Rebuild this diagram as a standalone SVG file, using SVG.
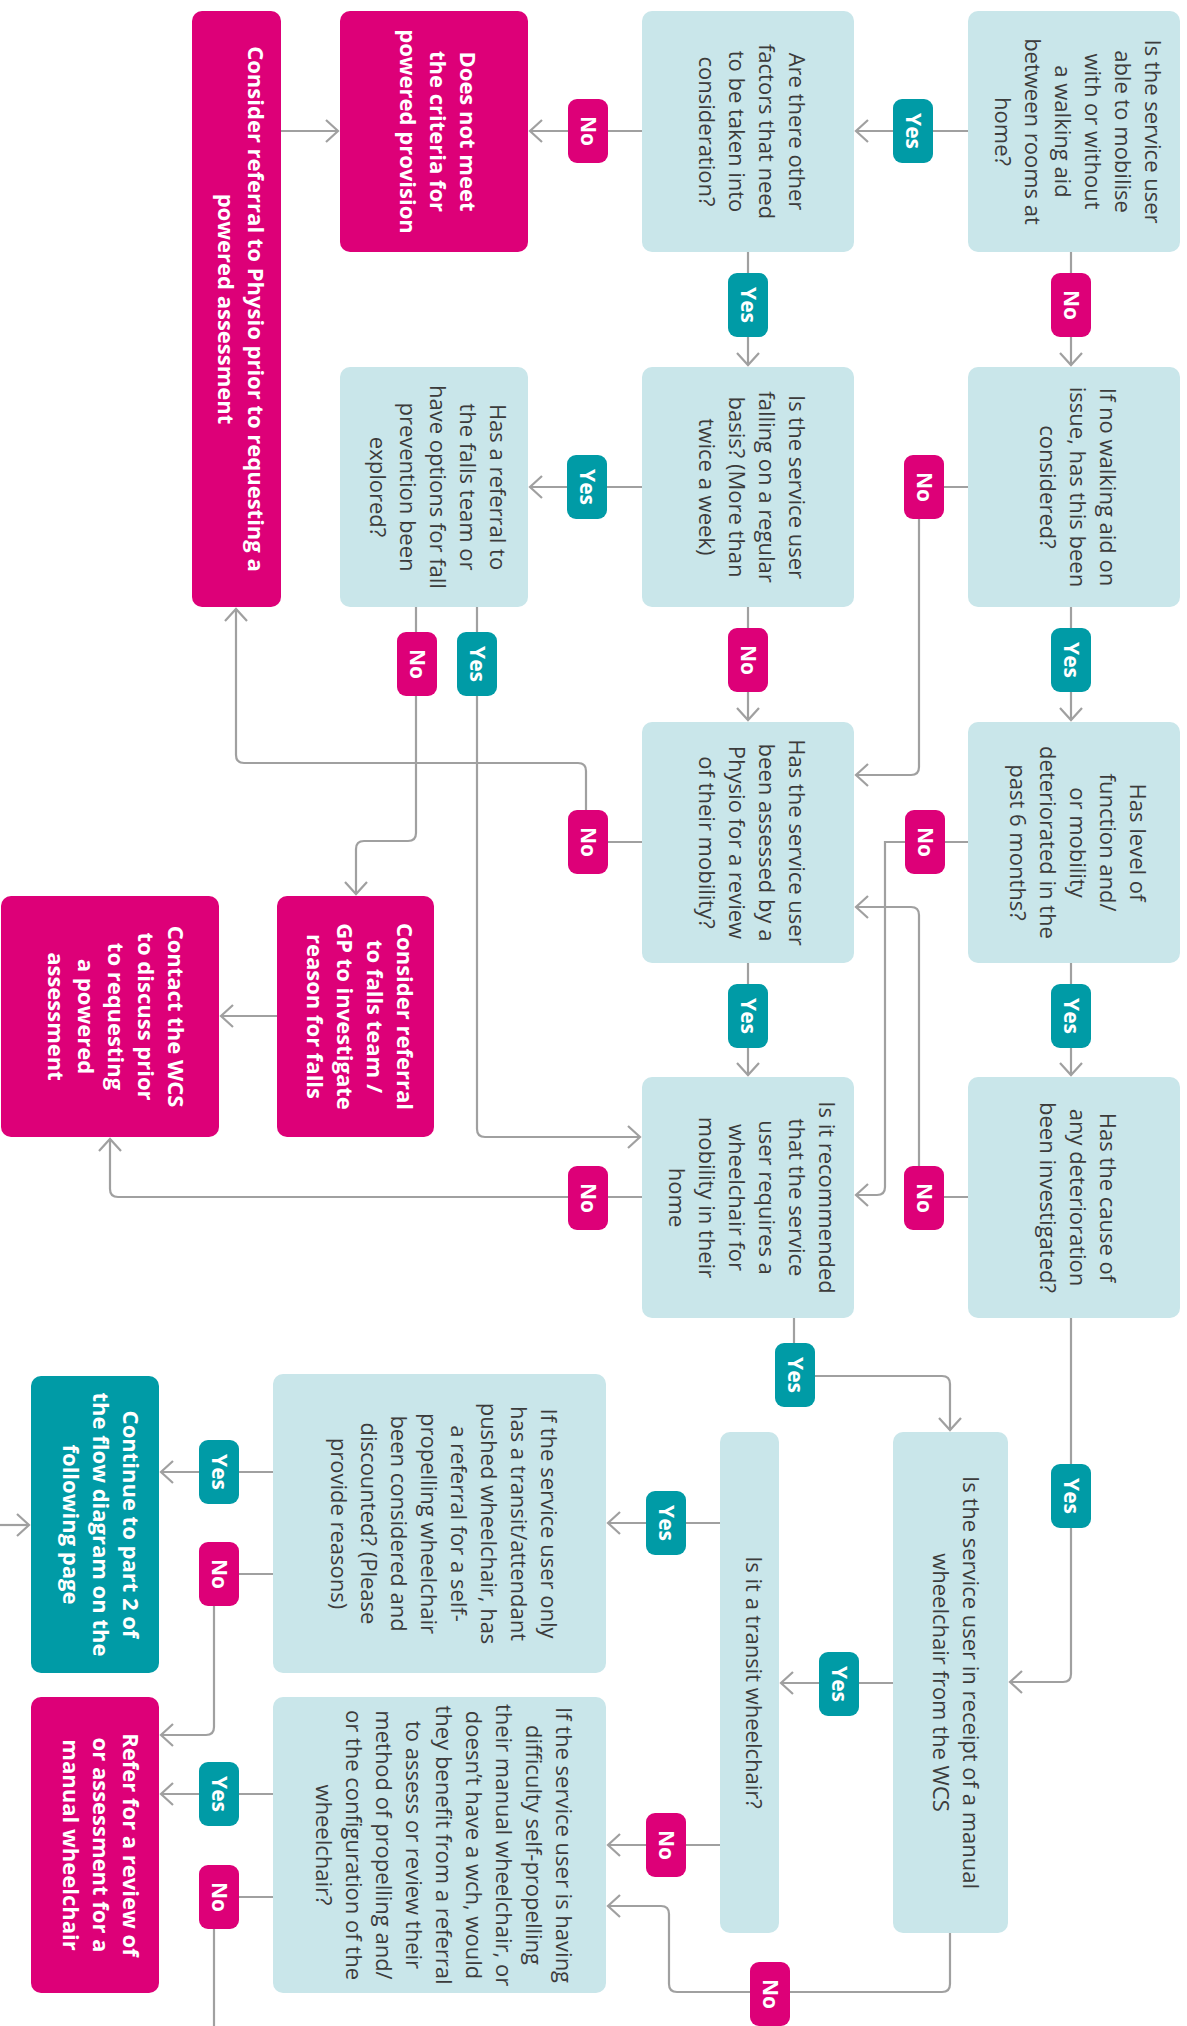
<svg xmlns="http://www.w3.org/2000/svg" width="1187" height="2026" viewBox="0 0 1187 2026">
<style>
.q{fill:#c9e6ea}
.m{fill:#dd0078}
.t{fill:#009ba6}
.tx{font-family:"Open Sans","Noto Sans","Liberation Sans",sans-serif;font-size:22px;fill:#3c3c3c;text-anchor:middle}
.tb{font-family:"Open Sans","Noto Sans","Liberation Sans",sans-serif;font-size:22px;font-weight:700;fill:#ffffff;text-anchor:middle}
.conn path{fill:none;stroke:#a0a0a0;stroke-width:2.2;marker-end:url(#ar)}
.conn path.nm{marker-end:none}
.bl text{font-family:"Open Sans","Noto Sans","Liberation Sans",sans-serif;font-size:21px;font-weight:700;fill:#ffffff;text-anchor:middle}
</style>
<defs>
<marker id="ar" viewBox="-15 -13 17 26" refX="0" refY="0" markerWidth="17" markerHeight="26" markerUnits="userSpaceOnUse" orient="auto">
<path d="M-12,-11 L0,0 L-12,11" fill="none" stroke="#a0a0a0" stroke-width="2.2"/>
</marker>
<rect id="by" x="-20" y="-32" width="40" height="64" rx="9" fill="#009ba6"/>
<rect id="bn" x="-20" y="-32" width="40" height="64" rx="9" fill="#dd0078"/>
</defs>
<rect width="1187" height="2026" fill="#ffffff"/>

<g class="conn">
<path d="M968,131 H856"/>
<path d="M642,131 H530"/>
<path d="M281,131 H338"/>
<path d="M1071,252 V365"/>
<path d="M748,252 V365"/>
<path d="M968,487 H919 V767 Q919,775 911,775 H856"/>
<path d="M642,487 H530"/>
<path d="M1071,607 V720"/>
<path d="M748,607 V720"/>
<path d="M416,607 V833 Q416,841 408,841 H364 Q356,841 356,849 V894"/>
<path d="M477,607 V1129 Q477,1137 485,1137 H640"/>
<path d="M642,842 H586 V771 Q586,763 578,763 H244 Q236,763 236,755 V609"/>
<path d="M968,842 H885 V1187 Q885,1195 877,1195 H856"/>
<path d="M968,1197 H919 V915 Q919,907 911,907 H856"/>
<path d="M1071,963 V1075"/>
<path d="M748,963 V1075"/>
<path d="M642,1197 H118 Q110,1197 110,1189 V1139"/>
<path d="M277,1016 H221"/>
<path d="M1071,1318 V1674 Q1071,1682 1063,1682 H1010"/>
<path d="M794,1318 V1376 H942 Q950,1376 950,1384 V1430"/>
<path d="M893,1683 H781"/>
<path d="M950,1933 V1984 Q950,1992 942,1992 H677 Q669,1992 669,1984 V1914 Q669,1906 661,1906 H608"/>
<path d="M720,1523 H608"/>
<path d="M720,1845 H608"/>
<path d="M273,1472 H161"/>
<path d="M273,1574 H214 V1727 Q214,1735 206,1735 H161"/>
<path d="M273,1794 H161"/>
<path class="nm" d="M273,1897 H214 V2026"/>
<path d="M0,1525 H29"/>
</g>

<g class="bl">
<g transform="translate(913,131)"><use href="#by"/><text transform="rotate(90)" y="7.5">Yes</text></g>
<g transform="translate(588,131)"><use href="#bn"/><text transform="rotate(90)" y="7.5">No</text></g>
<g transform="translate(1071,305)"><use href="#bn"/><text transform="rotate(90)" y="7.5">No</text></g>
<g transform="translate(748,305)"><use href="#by"/><text transform="rotate(90)" y="7.5">Yes</text></g>
<g transform="translate(924,487)"><use href="#bn"/><text transform="rotate(90)" y="7.5">No</text></g>
<g transform="translate(587,487)"><use href="#by"/><text transform="rotate(90)" y="7.5">Yes</text></g>
<g transform="translate(1071,660)"><use href="#by"/><text transform="rotate(90)" y="7.5">Yes</text></g>
<g transform="translate(748,660)"><use href="#bn"/><text transform="rotate(90)" y="7.5">No</text></g>
<g transform="translate(417,664)"><use href="#bn"/><text transform="rotate(90)" y="7.5">No</text></g>
<g transform="translate(477,664)"><use href="#by"/><text transform="rotate(90)" y="7.5">Yes</text></g>
<g transform="translate(588,842)"><use href="#bn"/><text transform="rotate(90)" y="7.5">No</text></g>
<g transform="translate(925,842)"><use href="#bn"/><text transform="rotate(90)" y="7.5">No</text></g>
<g transform="translate(1071,1016)"><use href="#by"/><text transform="rotate(90)" y="7.5">Yes</text></g>
<g transform="translate(748,1016)"><use href="#by"/><text transform="rotate(90)" y="7.5">Yes</text></g>
<g transform="translate(588,1198)"><use href="#bn"/><text transform="rotate(90)" y="7.5">No</text></g>
<g transform="translate(924,1198)"><use href="#bn"/><text transform="rotate(90)" y="7.5">No</text></g>
<g transform="translate(1071,1496)"><use href="#by"/><text transform="rotate(90)" y="7.5">Yes</text></g>
<g transform="translate(795,1375)"><use href="#by"/><text transform="rotate(90)" y="7.5">Yes</text></g>
<g transform="translate(839,1684)"><use href="#by"/><text transform="rotate(90)" y="7.5">Yes</text></g>
<g transform="translate(770,1994)"><use href="#bn"/><text transform="rotate(90)" y="7.5">No</text></g>
<g transform="translate(666,1523)"><use href="#by"/><text transform="rotate(90)" y="7.5">Yes</text></g>
<g transform="translate(666,1845)"><use href="#bn"/><text transform="rotate(90)" y="7.5">No</text></g>
<g transform="translate(219,1472)"><use href="#by"/><text transform="rotate(90)" y="7.5">Yes</text></g>
<g transform="translate(219,1574)"><use href="#bn"/><text transform="rotate(90)" y="7.5">No</text></g>
<g transform="translate(219,1794)"><use href="#by"/><text transform="rotate(90)" y="7.5">Yes</text></g>
<g transform="translate(219,1897)"><use href="#bn"/><text transform="rotate(90)" y="7.5">No</text></g>
</g>

<g id="nodeA"><rect class="q" x="968" y="11" width="212" height="241" rx="10"/>
<text class="tx" transform="translate(1074,131.5) rotate(90)"><tspan x="0" y="-71">Is the service user</tspan><tspan x="0" y="-41">able to mobilise</tspan><tspan x="0" y="-11">with or without</tspan><tspan x="0" y="19">a walking aid</tspan><tspan x="0" y="49">between rooms at</tspan><tspan x="0" y="79">home?</tspan></text></g>

<g id="nodeB"><rect class="q" x="642" y="11" width="212" height="241" rx="10"/>
<text class="tx" transform="translate(748,131.5) rotate(90)"><tspan x="0" y="-41">Are there other</tspan><tspan x="0" y="-11">factors that need</tspan><tspan x="0" y="19">to be taken into</tspan><tspan x="0" y="49">consideration?</tspan></text></g>

<g id="nodeC"><rect class="m" x="340" y="11" width="188" height="241" rx="10"/>
<text class="tb" transform="translate(434,131.5) rotate(90)"><tspan x="0" y="-26">Does not meet</tspan><tspan x="0" y="4">the criteria for</tspan><tspan x="0" y="34">powered provision</tspan></text></g>

<g id="nodeD"><rect class="m" x="192" y="11" width="89" height="596" rx="10"/>
<text class="tb" transform="translate(236.5,309) rotate(90)"><tspan x="0" y="-11">Consider referral to Physio prior to requesting a</tspan><tspan x="0" y="19">powered assessment</tspan></text></g>

<g id="nodeE"><rect class="q" x="968" y="367" width="212" height="240" rx="10"/>
<text class="tx" transform="translate(1074,487) rotate(90)"><tspan x="0" y="-26">If no walking aid on</tspan><tspan x="0" y="4">issue, has this been</tspan><tspan x="0" y="34">considered?</tspan></text></g>

<g id="nodeF"><rect class="q" x="642" y="367" width="212" height="240" rx="10"/>
<text class="tx" transform="translate(748,487) rotate(90)"><tspan x="0" y="-41">Is the service user</tspan><tspan x="0" y="-11">falling on a regular</tspan><tspan x="0" y="19">basis? (More than</tspan><tspan x="0" y="49">twice a week)</tspan></text></g>

<g id="nodeG"><rect class="q" x="340" y="367" width="188" height="240" rx="10"/>
<text class="tx" transform="translate(434,487) rotate(90)"><tspan x="0" y="-56">Has a referral to</tspan><tspan x="0" y="-26">the falls team or</tspan><tspan x="0" y="4">have options for fall</tspan><tspan x="0" y="34">prevention been</tspan><tspan x="0" y="64">explored?</tspan></text></g>

<g id="nodeH"><rect class="q" x="968" y="722" width="212" height="241" rx="10"/>
<text class="tx" transform="translate(1074,842.5) rotate(90)"><tspan x="0" y="-56">Has level of</tspan><tspan x="0" y="-26">function and/</tspan><tspan x="0" y="4">or mobility</tspan><tspan x="0" y="34">deteriorated in the</tspan><tspan x="0" y="64">past 6 months?</tspan></text></g>

<g id="nodeI"><rect class="q" x="642" y="722" width="212" height="241" rx="10"/>
<text class="tx" transform="translate(748,842.5) rotate(90)"><tspan x="0" y="-41">Has the service user</tspan><tspan x="0" y="-11">been assessed by a</tspan><tspan x="0" y="19">Physio for a review</tspan><tspan x="0" y="49">of their mobility?</tspan></text></g>

<g id="nodeJ"><rect class="m" x="277" y="896" width="157" height="241" rx="10"/>
<text class="tb" transform="translate(355.5,1016.5) rotate(90)"><tspan x="0" y="-41">Consider referral</tspan><tspan x="0" y="-11">to falls team /</tspan><tspan x="0" y="19">GP to investigate</tspan><tspan x="0" y="49">reason for falls</tspan></text></g>

<g id="nodeK"><rect class="m" x="1" y="896" width="218" height="241" rx="10"/>
<text class="tb" transform="translate(112,1016.5) rotate(90)"><tspan x="0" y="-56">Contact the WCS</tspan><tspan x="0" y="-26">to discuss prior</tspan><tspan x="0" y="4">to requesting</tspan><tspan x="0" y="34">a powered</tspan><tspan x="0" y="64">assessment</tspan></text></g>

<g id="nodeL"><rect class="q" x="968" y="1077" width="212" height="241" rx="10"/>
<text class="tx" transform="translate(1074,1197.5) rotate(90)"><tspan x="0" y="-26">Has the cause of</tspan><tspan x="0" y="4">any deterioration</tspan><tspan x="0" y="34">been investigated?</tspan></text></g>

<g id="nodeM"><rect class="q" x="642" y="1077" width="212" height="241" rx="10"/>
<text class="tx" transform="translate(748,1197.5) rotate(90)"><tspan x="0" y="-71">Is it recommended</tspan><tspan x="0" y="-41">that the service</tspan><tspan x="0" y="-11">user requires a</tspan><tspan x="0" y="19">wheelchair for</tspan><tspan x="0" y="49">mobility in their</tspan><tspan x="0" y="79">home</tspan></text></g>

<g id="nodeN"><rect class="q" x="893" y="1432" width="115" height="501" rx="10"/>
<text class="tx" transform="translate(952,1682.5) rotate(90)"><tspan x="0" y="-11">Is the service user in receipt of a manual</tspan><tspan x="0" y="19">wheelchair from the WCS</tspan></text></g>

<g id="nodeO"><rect class="q" x="720" y="1432" width="59" height="501" rx="10"/>
<text class="tx" transform="translate(750,1682.5) rotate(90)"><tspan x="0" y="4">Is it a transit wheelchair?</tspan></text></g>

<g id="nodeP"><rect class="q" x="273" y="1374" width="333" height="299" rx="10"/>
<text class="tx" transform="translate(440,1523.5) rotate(90)"><tspan x="0" y="-101">If the service user only</tspan><tspan x="0" y="-71">has a transit/attendant</tspan><tspan x="0" y="-41">pushed wheelchair, has</tspan><tspan x="0" y="-11">a referral for a self-</tspan><tspan x="0" y="19">propelling wheelchair</tspan><tspan x="0" y="49">been considered and</tspan><tspan x="0" y="79">discounted? (Please</tspan><tspan x="0" y="109">provide reasons)</tspan></text></g>

<g id="nodeQ"><rect class="q" x="273" y="1697" width="333" height="296" rx="10"/>
<text class="tx" transform="translate(440,1845) rotate(90)"><tspan x="0" y="-116">If the service user is having</tspan><tspan x="0" y="-86">difficulty self-propelling</tspan><tspan x="0" y="-56">their manual wheelchair, or</tspan><tspan x="0" y="-26">doesn’t have a wch, would</tspan><tspan x="0" y="4">they benefit from a referral</tspan><tspan x="0" y="34">to assess or review their</tspan><tspan x="0" y="64">method of propelling and/</tspan><tspan x="0" y="94">or the configuration of the</tspan><tspan x="0" y="124">wheelchair?</tspan></text></g>

<g id="nodeR"><rect class="t" x="31" y="1376" width="128" height="297" rx="10"/>
<text class="tb" transform="translate(97,1524.5) rotate(90)"><tspan x="0" y="-26">Continue to part 2 of</tspan><tspan x="0" y="4">the flow diagram on the</tspan><tspan x="0" y="34">following page</tspan></text></g>

<g id="nodeS"><rect class="m" x="31" y="1697" width="128" height="296" rx="10"/>
<text class="tb" transform="translate(97,1845) rotate(90)"><tspan x="0" y="-26">Refer for a review of</tspan><tspan x="0" y="4">or assessment for a</tspan><tspan x="0" y="34">manual wheelchair</tspan></text></g>
</svg>
